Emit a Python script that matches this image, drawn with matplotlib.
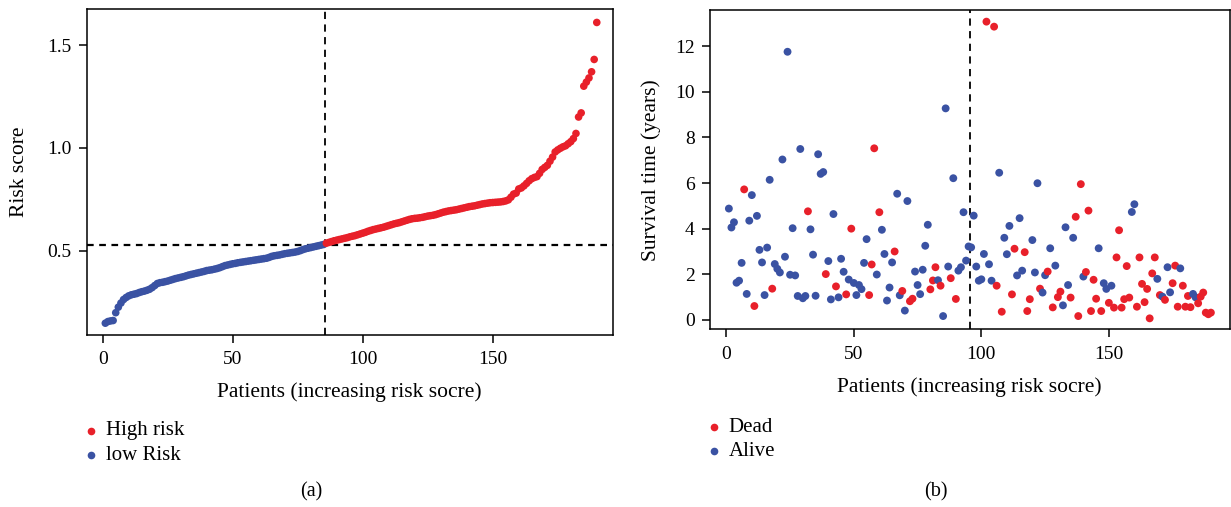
import matplotlib
matplotlib.use("Agg")
import matplotlib.pyplot as plt
from matplotlib.lines import Line2D

plt.rcParams["font.family"] = ["Liberation Serif", "DejaVu Serif"]

RED = "#e8202a"
BLUE = "#3a52a3"

# (a) risk score of each patient, sorted
risk_score = [
    0.147, 0.155, 0.158, 0.160, 0.198, 0.225, 0.245, 0.262, 0.272, 0.280,
    0.285, 0.288, 0.291, 0.296, 0.300, 0.303, 0.307, 0.312, 0.320, 0.330,
    0.340, 0.344, 0.346, 0.349, 0.352, 0.356, 0.360, 0.364, 0.367, 0.370,
    0.373, 0.377, 0.381, 0.384, 0.387, 0.390, 0.393, 0.396, 0.399, 0.403,
    0.405, 0.407, 0.410, 0.413, 0.417, 0.422, 0.427, 0.430, 0.433, 0.436,
    0.438, 0.441, 0.443, 0.445, 0.447, 0.449, 0.451, 0.453, 0.455, 0.457,
    0.459, 0.461, 0.463, 0.467, 0.472, 0.475, 0.477, 0.479, 0.482, 0.485,
    0.487, 0.489, 0.491, 0.493, 0.496, 0.500, 0.505, 0.509, 0.512, 0.515,
    0.518, 0.521, 0.524, 0.527, 0.530, 0.536, 0.540, 0.544, 0.548, 0.551,
    0.554, 0.557, 0.560, 0.563, 0.567, 0.570, 0.573, 0.577, 0.581, 0.585,
    0.589, 0.594, 0.598, 0.602, 0.605, 0.608, 0.611, 0.614, 0.618, 0.622,
    0.626, 0.630, 0.633, 0.636, 0.640, 0.644, 0.648, 0.652, 0.655, 0.657,
    0.658, 0.660, 0.662, 0.665, 0.668, 0.670, 0.672, 0.675, 0.679, 0.683,
    0.687, 0.690, 0.693, 0.695, 0.697, 0.699, 0.702, 0.705, 0.708, 0.711,
    0.714, 0.716, 0.718, 0.721, 0.724, 0.727, 0.729, 0.731, 0.733, 0.734,
    0.735, 0.736, 0.737, 0.739, 0.742, 0.747, 0.760, 0.775, 0.780, 0.800,
    0.805, 0.815, 0.827, 0.840, 0.850, 0.856, 0.860, 0.876, 0.895, 0.905,
    0.915, 0.935, 0.955, 0.980, 0.990, 0.998, 1.005, 1.010, 1.020, 1.030,
    1.045, 1.070, 1.150, 1.170, 1.300, 1.320, 1.340, 1.370, 1.430, 1.610,
]
n_low = 85
risk_cutoff = 0.528

# (b) survival time in years, D = dead, A = alive
surv_years = [
    4.88, 4.05, 4.28, 1.63, 1.72, 2.50, 5.72, 1.14, 4.35, 5.47,
    0.61, 4.56, 3.07, 2.52, 1.09, 3.17, 6.14, 1.37, 2.45, 2.24,
    2.08, 7.03, 2.77, 11.75, 1.98, 4.02, 1.95, 1.05, 7.49, 0.95,
    1.05, 4.76, 3.97, 2.86, 1.06, 7.26, 6.40, 6.48, 2.01, 2.58,
    0.90, 4.64, 1.47, 0.99, 2.68, 2.11, 1.12, 1.77, 4.00, 1.62,
    1.09, 1.53, 1.35, 2.50, 3.54, 1.09, 2.43, 7.52, 1.99, 4.72,
    3.95, 2.89, 0.85, 1.42, 2.52, 3.00, 5.53, 1.08, 1.27, 0.41,
    5.21, 0.82, 0.93, 2.12, 1.53, 1.13, 2.20, 3.25, 4.17, 1.34,
    1.73, 2.31, 1.74, 1.50, 0.17, 9.27, 2.34, 1.83, 6.21, 0.92,
    2.16, 2.31, 4.72, 2.60, 3.22, 3.18, 4.57, 2.34, 1.72, 1.78,
    2.89, 13.07, 2.44, 1.72, 12.85, 1.50, 6.45, 0.36, 3.60, 2.88,
    4.12, 1.12, 3.12, 1.95, 4.46, 2.16, 2.97, 0.39, 0.91, 3.50,
    2.08, 5.99, 1.37, 1.20, 1.96, 2.12, 3.14, 0.55, 2.38, 1.00,
    1.24, 0.64, 4.06, 1.53, 0.98, 3.60, 4.52, 0.17, 5.95, 1.90,
    2.10, 4.79, 0.39, 1.76, 0.93, 3.14, 0.39, 1.61, 1.36, 0.75,
    1.50, 0.54, 2.74, 3.93, 0.54, 0.91, 2.36, 0.98, 4.73, 5.07,
    0.58, 2.74, 1.58, 0.78, 1.36, 0.07, 2.04, 2.74, 1.80, 1.09,
    1.02, 0.88, 2.31, 1.21, 1.61, 2.38, 0.58, 2.26, 1.50, 0.58,
    1.05, 0.56, 1.14, 0.99, 0.73, 1.02, 1.20, 0.32, 0.25, 0.32,
]
surv_status = (
    "AAAAAADAAA" "DAAAAAADAA" "AAAAAAAAAA" "ADAAAAAADA" "AADAAADADA"
    "AAAAADDDAD" "AAAAADAADA" "ADDAAAAAAD" "DDADAAADAD" "AAAAAAAAAA"
    "ADAADDADAA" "ADDAAADDDA" "AADAADADAD" "DAAADADDDA" "DDDDDADAAD"
    "ADDDDDDDAA" "DDDDDDDDAD" "ADAADDDADD" "DDAADDDDDD"
)
surv_cut_x = 95.4

W, H = 1231, 507
fig = plt.figure(figsize=(W / 100, H / 100), dpi=100)


def box(l, t, r, b):
    return [l / W, 1 - b / H, (r - l) / W, (b - t) / H]


def style(ax):
    for s in ax.spines.values():
        s.set_linewidth(1.1)
    ax.tick_params(length=6, width=1.1, labelsize=14)
    ax.tick_params(axis="x", pad=6)
    ax.tick_params(axis="y", pad=5)


# ---- panel a ----
ax1 = fig.add_axes(box(86.6, 9.3, 612.9, 334.7))
x = list(range(1, len(risk_score) + 1))
cols = [BLUE if i <= n_low else RED for i in x]
ax1.scatter(x, risk_score, c=cols, s=30, linewidths=0, zorder=3)
ax1.axvline(n_low + 0.5, color="black", lw=1.3, ls=(0, (4, 3)))
ax1.axhline(risk_cutoff, color="black", lw=1.6, ls=(0, (3, 2.5)))
ax1.set_xlim(-6.2, 196.2)
ax1.set_ylim(0.091, 1.674)
ax1.set_xticks([0, 50, 100, 150])
ax1.set_yticks([0.5, 1.0, 1.5])
ax1.set_yticklabels(["0.5", "1.0", "1.5"])
style(ax1)
ax1.set_ylabel("Risk score", fontsize=15.5)
ax1.yaxis.set_label_coords((29 - 86.6) / 526.3, 0.5)
ax1.set_xlabel("Patients (increasing risk socre)", fontsize=15.5, va="center")
ax1.xaxis.set_label_coords(0.5, (334.7 - 391.7) / 325.4)

# ---- panel b ----
ax2 = fig.add_axes(box(710, 10, 1229.5, 329.3))
x2 = list(range(1, len(surv_years) + 1))
cols2 = [RED if s == "D" else BLUE for s in surv_status]
ax2.scatter(x2, surv_years, c=cols2, s=32, linewidths=0, zorder=3)
ax2.axvline(surv_cut_x, color="black", lw=1.3, ls=(0, (4, 3)))
ax2.set_xlim(-6.4, 197.3)
ax2.set_ylim(-0.41, 13.58)
ax2.set_xticks([0, 50, 100, 150])
ax2.set_yticks([0, 2, 4, 6, 8, 10, 12])
style(ax2)
ax2.set_ylabel("Survival time (years)", fontsize=15.5)
ax2.yaxis.set_label_coords((661 - 710) / 519.5, 0.5)
ax2.set_xlabel("Patients (increasing risk socre)", fontsize=15.5, va="center")
ax2.xaxis.set_label_coords(0.5, (329.3 - 386.7) / 319.3)

# ---- legends and panel tags ----
def legend_row(px, py, color, label):
    fig.add_artist(Line2D([px / W], [1 - py / H], marker="o", ms=5.5, mew=0,
                          color=color, transform=fig.transFigure))
    fig.text((px + 15) / W, 1 - py / H, label, fontsize=15,
             ha="left", va="center")


legend_row(91, 431, RED, "High risk")
legend_row(91, 455, BLUE, "low Risk")
legend_row(713.5, 427, RED, "Dead")
legend_row(713.5, 451, BLUE, "Alive")

fig.text(311 / W, 1 - 492 / H, "(a)", fontsize=14.5, ha="center", va="center")
fig.text(936 / W, 1 - 492 / H, "(b)", fontsize=14.5, ha="center", va="center")

fig.savefig("out.png", dpi=100)
